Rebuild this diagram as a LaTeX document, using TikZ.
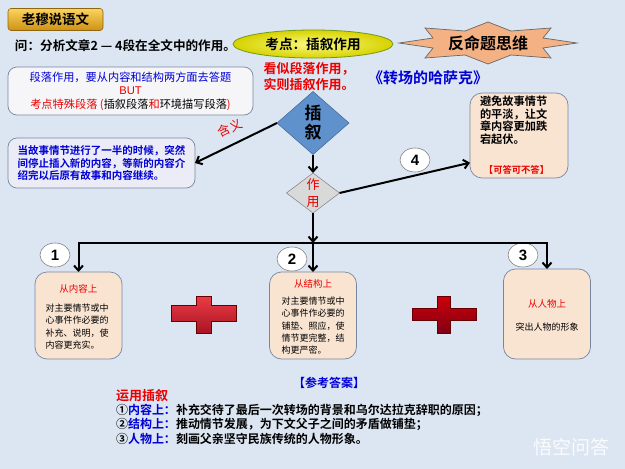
\documentclass[tikz,border=0pt]{standalone}
\usepackage{fontspec}
\setmainfont{Noto Sans CJK SC}[BoldFont={Noto Sans CJK SC Bold}]
\newfontfamily\numfont{Liberation Sans}
\usetikzlibrary{shapes.geometric,arrows.meta,calc}
\definecolor{bgblue}{RGB}{220,230,242}
\definecolor{txtblue}{RGB}{0,0,215}
\definecolor{bordc}{RGB}{120,135,160}
\definecolor{peach}{RGB}{249,228,210}
\definecolor{lav}{RGB}{236,236,246}
\definecolor{boxw}{RGB}{246,246,248}
\definecolor{diablue}{RGB}{95,145,205}
\definecolor{goldT}{RGB}{250,212,95}
\definecolor{goldB}{RGB}{205,145,20}
\definecolor{starfill}{RGB}{244,177,131}
\definecolor{redT}{RGB}{235,0,0}
\newcommand{\fsz}[2]{\fontsize{#1}{#2}\selectfont}
\begin{document}
\begin{tikzpicture}[x=1pt,y=-1pt,
  every node/.style={inner sep=0pt,outer sep=0pt},
  conn/.style={line width=2pt,-{Straight Barb[length=5pt,width=9pt]}},
  rbox/.style={draw=bordc,line width=0.7pt,rounded corners=9pt},
  sbox/.style={rbox,fill=peach,rounded corners=12pt,minimum width=87pt,minimum height=87pt},
  numc/.style={ellipse,draw=gray,fill=white,line width=0.6pt,minimum width=30pt,minimum height=24pt,font=\numfont\bfseries\fsz{15}{15}},
  crossst/.style={draw=red!40!black,line width=0.4pt},
  smalltxt/.style={align=left,anchor=north,font=\fsz{9}{12.3}},
  smallttl/.style={text=redT,font=\fsz{9.5}{11}}
]
\fill[bgblue] (0,0) rectangle (625,469);
\useasboundingbox (0,0) rectangle (625,469);

% title
\node[draw=goldB!70!black,line width=0.6pt,rounded corners=3pt,top color=goldT,bottom color=goldB,
  minimum width=95pt,minimum height=22pt,font=\bfseries\fsz{13.5}{15}] (title) at (55.5,19.5) {老穆说语文};
\node[anchor=west,font=\bfseries\fsz{12.6}{15}] (q) at (15,46) {问：分析文章2 — 4段在全文中的作用。};

% ellipse
\node[ellipse,draw=olive!60!green,line width=0.8pt,inner color={rgb,255:red,250;green,250;blue,130},
  outer color={rgb,255:red,215;green,210;blue,0},minimum width=160pt,minimum height=28pt,
  font=\bfseries\fsz{13.6}{15}] (kd) at (313,44) {考点：插叙作用};

% star
\draw[fill=starfill,draw=gray!80!black,line width=0.7pt]
  (577,43) -- (543,38) -- (551,28) -- (511,31) -- (488,22) -- (465,31) -- (425,28) -- (433,38)
  -- (399,43) -- (433,48) -- (425,58) -- (465,55) -- (488,64) -- (511,55) -- (551,58) -- (543,48) -- cycle;
\node[font=\bfseries\fsz{16}{18}] (star) at (488,43) {反命题思维};

% red and blue text
\node[align=left,text=redT,font=\bfseries\fsz{13}{16.5}] (kan) at (309,76.5) {看似段落作用，\\实则插叙作用。};
\node[text=txtblue,font=\bfseries\fsz{15}{17}] (book) at (428,78) {《转场的哈萨克》};

% top-left box
\node[rbox,fill=boxw,minimum width=245pt,minimum height=48pt,align=center,font=\fsz{11.2}{13.5}] (b1) at (130.5,91)
  {\textcolor{txtblue}{段落作用，要从内容和结构两方面去答题}\\
   \textcolor{redT}{\numfont BUT}\\
   \textcolor{redT}{考点特殊段落 (}插叙段落\textcolor{redT}{和}环境描写段落\textcolor{redT}{)}};

% meaning box
\node[rbox,fill=lav,minimum width=187pt,minimum height=50pt,align=left,text=txtblue,
  font=\bfseries\fsz{10.5}{12.5}] (b2) at (101.5,163)
  {当故事情节进行了一半的时候，突然\\间停止插入新的内容，等新的内容介\\绍完以后原有故事和内容继续。};

% diamonds
\node[diamond,draw=diablue!70!black,line width=0.5pt,fill=diablue,minimum width=72pt,minimum height=63pt,
  aspect=1.14,align=center,font=\bfseries\fsz{17}{19}] (chaxu) at (313,123) {插\\叙};
\node[diamond,draw=gray,line width=0.5pt,fill=gray!30,minimum width=53pt,minimum height=40pt,
  aspect=1.32,align=center,text=redT,font=\fsz{13}{17}] (zuoyong) at (313,193) {作\\用};

% box 4
\node[rbox,fill=peach,rounded corners=12pt,minimum width=98pt,minimum height=85pt] (b4) at (519,135.5) {};
\node[align=left,anchor=north west,font=\bfseries\fsz{11.2}{12.7}] (b4t) at (480,96) {避免故事情节\\的平淡，让文\\章内容更加跌\\宕起伏。};
\node[text=redT,font=\bfseries\fsz{9.3}{11}] (b4r) at (516.5,170) {【可答可不答】};

% small boxes
\node[sbox] (b5) at (78.5,315.5) {};
\node[smallttl] (b5t) at (78.5,289) {从内容上};
\node[smalltxt] (b5b) at (77,304) {对主要情节或中\\心事件作必要的\\补充、说明，使\\内容更充实。};

\node[sbox] (b6) at (313,315.5) {};
\node[smallttl] (b6t) at (313,284) {从结构上};
\node[smalltxt] (b6b) at (313,297) {对主要情节或中\\心事件作必要的\\铺垫、照应，使\\情节更完整，结\\构更严密。};

\node[sbox,minimum height=90pt] (b7) at (547,314) {};
\node[smallttl] (b7t) at (547,304) {从人物上};
\node[font=\fsz{9}{11}] (b7b) at (547,327) {突出人物的形象};

% number circles
\node[numc] (n1) at (55,255) {1};
\node[numc] (n2) at (292,259) {2};
\node[numc] (n3) at (523,255) {3};
\node[numc] (n4) at (415,160) {4};

% connectors
\draw[conn] (chaxu.west) -- (b2.east);
\node[rotate=26,text=redT,font=\fsz{12.5}{12.5}] (hanyi) at (230,128) {含义};
\draw[conn] (chaxu.south) -- (zuoyong.north);
\draw[conn] (zuoyong.east) -- ($(b4.west)!0.64!(b4.south west)$);
\coordinate (bar) at (313,243);
\coordinate (barL) at (b5.north |- bar);
\coordinate (barR) at (b7.north |- bar);
\draw[conn] (zuoyong.south) -- (bar);
\draw[line width=2pt,{Straight Barb[length=5pt,width=9pt]}-{Straight Barb[length=5pt,width=9pt]}]
  (b5.north) -- (barL) -- (barR) -- (b7.north);
\draw[conn] (bar) -- (b6.north);

% crosses
\shade[crossst,top color={rgb,255:red,235;green,60;blue,70},bottom color={rgb,255:red,170;green,20;blue,35}]
  (171,305) -- (196,305) -- (196,296) -- (211,296) -- (211,305) -- (236,305) -- (236,321) -- (211,321)
  -- (211,333) -- (196,333) -- (196,321) -- (171,321) -- cycle;
\shade[crossst,top color={rgb,255:red,205;green,0;blue,10},bottom color={rgb,255:red,130;green,0;blue,20}]
  (412,308) -- (437,308) -- (437,296) -- (450,296) -- (450,308) -- (476,308) -- (476,320) -- (450,320)
  -- (450,333) -- (437,333) -- (437,320) -- (412,320) -- cycle;

% answers
\node[text=txtblue,font=\bfseries\fsz{12}{14}] (ans) at (329,383) {【参考答案】};
\node[anchor=west,text=redT,font=\bfseries\fsz{13}{15}] (yy) at (116,396) {运用插叙};
\node[anchor=north west,align=left,font=\bfseries\fsz{12}{14.5}] (lines) at (116,404)
  {①\textcolor{txtblue}{内容上：}补充交待了最后一次转场的背景和乌尔达拉克辞职的原因；\\
   ②\textcolor{txtblue}{结构上：}推动情节发展，为下文父子之间的矛盾做铺垫；\\
   ③\textcolor{txtblue}{人物上：}刻画父亲坚守民族传统的人物形象。};

% watermark
\node[text=white,opacity=0.85,font=\fsz{19}{19}] (wm) at (571,447) {悟空问答};
\end{tikzpicture}
\end{document}
